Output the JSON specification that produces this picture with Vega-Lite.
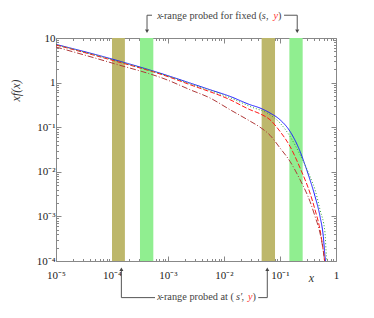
{
  "$schema": "https://vega.github.io/schema/vega-lite/v6.json",
  "width": 280,
  "height": 223,
  "autosize": {"type": "none"},
  "padding": {"left": 56, "top": 38, "right": 38, "bottom": 57},
  "config": {
    "view": {"stroke": "#888", "strokeWidth": 1},
    "font": "Liberation Serif",
    "axis": {
      "domain": false,
      "grid": false,
      "labelFont": "Liberation Serif",
      "labelFontSize": 11,
      "labelColor": "#222",
      "tickColor": "#888",
      "titleFont": "Liberation Serif",
      "titleFontWeight": "normal",
      "titleFontStyle": "italic",
      "titleFontSize": 12,
      "titleColor": "#333",
      "labelFlush": false,
      "labelOverlap": false
    }
  },
  "datasets": {
    "bands": [
      {"x0": 0.0001, "x1": 0.00017, "kind": "sprime"},
      {"x0": 0.000316, "x1": 0.000547, "kind": "s"},
      {"x0": 0.047, "x1": 0.0815, "kind": "sprime"},
      {"x0": 0.147, "x1": 0.254, "kind": "s"}
    ],
    "curves": [
      {"x": 0.00001, "y": 7.19, "s": "a"},
      {"x": 0.0001, "y": 3.38, "s": "a"},
      {"x": 0.001, "y": 1.43, "s": "a"},
      {"x": 0.00247, "y": 0.98, "s": "a"},
      {"x": 0.00562, "y": 0.693, "s": "a"},
      {"x": 0.0128, "y": 0.491, "s": "a"},
      {"x": 0.0291, "y": 0.32, "s": "a"},
      {"x": 0.044, "y": 0.269, "s": "a"},
      {"x": 0.0663, "y": 0.208, "s": "a"},
      {"x": 0.1, "y": 0.147, "s": "a"},
      {"x": 0.151, "y": 0.0805, "s": "a"},
      {"x": 0.228, "y": 0.0287, "s": "a"},
      {"x": 0.279, "y": 0.0144, "s": "a"},
      {"x": 0.343, "y": 0.00665, "s": "a"},
      {"x": 0.422, "y": 0.00281, "s": "a"},
      {"x": 0.518, "y": 0.001, "s": "a"},
      {"x": 0.593, "y": 0.000356, "s": "a"},
      {"x": 0.636, "y": 0.000127, "s": "a"},
      {"x": 0.648, "y": 0.0001, "s": "a"},

      {"x": 0.00001, "y": 6.97, "s": "b"},
      {"x": 0.0001, "y": 3.18, "s": "b"},
      {"x": 0.001, "y": 1.36, "s": "b"},
      {"x": 0.00247, "y": 0.898, "s": "b"},
      {"x": 0.0128, "y": 0.414, "s": "b"},
      {"x": 0.0291, "y": 0.247, "s": "b"},
      {"x": 0.044, "y": 0.2, "s": "b"},
      {"x": 0.0663, "y": 0.147, "s": "b"},
      {"x": 0.1, "y": 0.0805, "s": "b"},
      {"x": 0.151, "y": 0.0371, "s": "b"},
      {"x": 0.228, "y": 0.0122, "s": "b"},
      {"x": 0.343, "y": 0.00335, "s": "b"},
      {"x": 0.422, "y": 0.00141, "s": "b"},
      {"x": 0.518, "y": 0.000503, "s": "b"},
      {"x": 0.611, "y": 0.000127, "s": "b"},
      {"x": 0.625, "y": 0.0001, "s": "b"},

      {"x": 0.00001, "y": 7.08, "s": "c"},
      {"x": 0.0001, "y": 3.28, "s": "c"},
      {"x": 0.001, "y": 1.4, "s": "c"},
      {"x": 0.00247, "y": 0.944, "s": "c"},
      {"x": 0.0128, "y": 0.458, "s": "c"},
      {"x": 0.0291, "y": 0.292, "s": "c"},
      {"x": 0.0663, "y": 0.19, "s": "c"},
      {"x": 0.1, "y": 0.124, "s": "c"},
      {"x": 0.151, "y": 0.0622, "s": "c"},
      {"x": 0.228, "y": 0.0242, "s": "c"},
      {"x": 0.343, "y": 0.00788, "s": "c"},
      {"x": 0.422, "y": 0.00397, "s": "c"},
      {"x": 0.518, "y": 0.00141, "s": "c"},
      {"x": 0.636, "y": 0.000431, "s": "c"},
      {"x": 0.675, "y": 0.000127, "s": "c"},
      {"x": 0.69, "y": 0.0001, "s": "c"},

      {"x": 0.00001, "y": 6.28, "s": "d"},
      {"x": 0.0001, "y": 2.75, "s": "d"},
      {"x": 0.001, "y": 1.13, "s": "d"},
      {"x": 0.00247, "y": 0.693, "s": "d"},
      {"x": 0.00562, "y": 0.452, "s": "d"},
      {"x": 0.0128, "y": 0.247, "s": "d"},
      {"x": 0.0291, "y": 0.137, "s": "d"},
      {"x": 0.044, "y": 0.1, "s": "d"},
      {"x": 0.0663, "y": 0.066, "s": "d"},
      {"x": 0.1, "y": 0.0342, "s": "d"},
      {"x": 0.151, "y": 0.0171, "s": "d"},
      {"x": 0.228, "y": 0.00665, "s": "d"},
      {"x": 0.343, "y": 0.00217, "s": "d"},
      {"x": 0.422, "y": 0.001, "s": "d"},
      {"x": 0.518, "y": 0.000425, "s": "d"},
      {"x": 0.611, "y": 0.000127, "s": "d"},
      {"x": 0.625, "y": 0.0001, "s": "d"}
    ],
    "segments": [
      {"x": 0.000422, "x2": 0.000518, "y": 32.4, "y2": 32.4},
      {"x": 0.118, "x2": 0.203, "y": 32.4, "y2": 32.4},
      {"x": 0.000422, "x2": 0.000422, "y": 32.4, "y2": 15.4},
      {"x": 0.203, "x2": 0.203, "y": 32.4, "y2": 15.4},
      {"x": 0.000147, "x2": 0.000586, "y": 0.0000151, "y2": 0.0000151},
      {"x": 0.0409, "x2": 0.0593, "y": 0.0000151, "y2": 0.0000151},
      {"x": 0.000147, "x2": 0.000147, "y": 0.0000151, "y2": 0.0000638},
      {"x": 0.0593, "x2": 0.0593, "y": 0.0000151, "y2": 0.0000638}
    ],
    "heads": [
      {"x": 0.000422, "y": 14.2, "dir": "down"},
      {"x": 0.203, "y": 14.2, "dir": "down"},
      {"x": 0.000147, "y": 0.0000655, "dir": "up"},
      {"x": 0.0593, "y": 0.0000655, "dir": "up"}
    ],
    "plain": [
      {"t": "-range probed for fixed (", "x": 0.000735, "y": 31.5},
      {"t": ",", "x": 0.0562, "y": 31.5},
      {"t": ")", "x": 0.092, "y": 31.5},
      {"t": "-range probed at (", "x": 0.000735, "y": 0.0000153},
      {"t": ",", "x": 0.0205, "y": 0.0000153},
      {"t": ")", "x": 0.0323, "y": 0.0000153}
    ],
    "vars": [
      {"t": "x", "x": 0.000644, "y": 31.5, "role": "var"},
      {"t": "s", "x": 0.0471, "y": 31.5, "role": "var"},
      {"t": "y", "x": 0.0766, "y": 31.5, "role": "hl"},
      {"t": "x", "x": 0.000644, "y": 0.0000153, "role": "var"},
      {"t": "s′", "x": 0.01637, "y": 0.0000153, "role": "var"},
      {"t": "y", "x": 0.0268, "y": 0.0000153, "role": "hl"}
    ]
  },
  "resolve": {"axis": {"x": "independent", "y": "independent"}, "scale": {"color": "independent", "shape": "independent", "strokeDash": "independent"}},
  "layer": [
    {
      "data": {"name": "bands"},
      "mark": {"type": "rect"},
      "encoding": {
        "x": {
          "field": "x0", "type": "quantitative",
          "scale": {"type": "log", "domain": [0.00001, 1]},
          "axis": {
            "orient": "bottom",
            "title": "x",
            "titleX": 255, "titleY": 20, "titleBaseline": "alphabetic", "titleAlign": "center",
            "values": [0.00001,0.00002,0.00003,0.00004,0.00005,0.00006,0.00007,0.00008,0.00009,0.0001,0.0002,0.0003,0.0004,0.0005,0.0006,0.0007,0.0008,0.0009,0.001,0.002,0.003,0.004,0.005,0.006,0.007,0.008,0.009,0.01,0.02,0.03,0.04,0.05,0.06,0.07,0.08,0.09,0.1,0.2,0.3,0.4,0.5,0.6,0.7,0.8,0.9,1],
            "labelExpr": "abs(log(datum.value)/LN10 - round(log(datum.value)/LN10)) > 0.01 ? '' : (round(log(datum.value)/LN10) == 0 ? '1' : '10⁻' + ['','¹','²','³','⁴','⁵'][-round(log(datum.value)/LN10)])",
            "tickSize": {"condition": {"test": "abs(log(datum.value)/LN10 - round(log(datum.value)/LN10)) < 0.01", "value": -5}, "value": -2.5},
            "labelPadding": 13
          }
        },
        "x2": {"field": "x1"},
        "color": {"field": "kind", "type": "nominal", "scale": {"domain": ["sprime", "s"], "range": ["#bdb76b", "#90ee90"]}, "legend": null}
      }
    },
    {
      "data": {"name": "curves"},
      "mark": {"type": "line", "strokeWidth": 1, "interpolate": "monotone", "clip": true},
      "encoding": {
        "x": {
          "field": "x", "type": "quantitative",
          "scale": {"type": "log", "domain": [0.00001, 1]},
          "axis": {
            "orient": "top", "title": null, "labels": false,
            "values": [0.00001,0.00002,0.00003,0.00004,0.00005,0.00006,0.00007,0.00008,0.00009,0.0001,0.0002,0.0003,0.0004,0.0005,0.0006,0.0007,0.0008,0.0009,0.001,0.002,0.003,0.004,0.005,0.006,0.007,0.008,0.009,0.01,0.02,0.03,0.04,0.05,0.06,0.07,0.08,0.09,0.1,0.2,0.3,0.4,0.5,0.6,0.7,0.8,0.9,1],
            "tickSize": {"condition": {"test": "abs(log(datum.value)/LN10 - round(log(datum.value)/LN10)) < 0.01", "value": -5}, "value": -2.5}
          }
        },
        "y": {
          "field": "y", "type": "quantitative",
          "scale": {"type": "log", "domain": [0.0001, 10]},
          "axis": {
            "orient": "left",
            "title": "xf(x)",
            "titleAngle": -90, "titleX": -41, "titleY": 52, "titleAlign": "center", "titleBaseline": "middle",
            "values": [0.0001,0.0002,0.0003,0.0004,0.0005,0.0006,0.0007,0.0008,0.0009,0.001,0.002,0.003,0.004,0.005,0.006,0.007,0.008,0.009,0.01,0.02,0.03,0.04,0.05,0.06,0.07,0.08,0.09,0.1,0.2,0.3,0.4,0.5,0.6,0.7,0.8,0.9,1,2,3,4,5,6,7,8,9,10],
            "labelExpr": "abs(log(datum.value)/LN10 - round(log(datum.value)/LN10)) > 0.01 ? '' : (round(log(datum.value)/LN10) == 0 ? '1' : round(log(datum.value)/LN10) == 1 ? '10' : '10⁻' + ['','¹','²','³','⁴','⁵'][-round(log(datum.value)/LN10)])",
            "tickSize": {"condition": {"test": "abs(log(datum.value)/LN10 - round(log(datum.value)/LN10)) < 0.01", "value": -5}, "value": -2.5},
            "labelPadding": 6
          }
        },
        "color": {"field": "s", "type": "nominal", "scale": {"domain": ["a", "b", "c", "d"], "range": ["#1a1aff", "#ff1a1a", "#33a833", "#b03a3a"]}, "legend": null},
        "strokeDash": {"field": "s", "type": "nominal", "scale": {"domain": ["a", "b", "c", "d"], "range": [[1, 0], [5, 2], [1, 2], [6, 2, 1, 2]]}, "legend": null}
      }
    },
    {
      "data": {"name": "segments"},
      "mark": {"type": "rule", "color": "#555", "strokeWidth": 1},
      "encoding": {
        "x": {"field": "x", "type": "quantitative", "scale": {"type": "log", "domain": [0.00001, 1]}, "axis": null},
        "x2": {"field": "x2"},
        "y": {
          "field": "y", "type": "quantitative",
          "scale": {"type": "log", "domain": [0.0001, 10]},
          "axis": {
            "orient": "right", "title": null, "labels": false,
            "values": [0.0001,0.0002,0.0003,0.0004,0.0005,0.0006,0.0007,0.0008,0.0009,0.001,0.002,0.003,0.004,0.005,0.006,0.007,0.008,0.009,0.01,0.02,0.03,0.04,0.05,0.06,0.07,0.08,0.09,0.1,0.2,0.3,0.4,0.5,0.6,0.7,0.8,0.9,1,2,3,4,5,6,7,8,9,10],
            "tickSize": {"condition": {"test": "abs(log(datum.value)/LN10 - round(log(datum.value)/LN10)) < 0.01", "value": -5}, "value": -2.5}
          }
        },
        "y2": {"field": "y2"}
      }
    },
    {
      "data": {"name": "heads"},
      "mark": {"type": "point", "filled": true, "color": "#444", "opacity": 1, "size": 16},
      "encoding": {
        "x": {"field": "x", "type": "quantitative", "scale": {"type": "log", "domain": [0.00001, 1]}, "axis": null},
        "y": {"field": "y", "type": "quantitative", "scale": {"type": "log", "domain": [0.0001, 10]}, "axis": null},
        "shape": {"field": "dir", "type": "nominal", "scale": {"domain": ["down", "up"], "range": ["triangle-down", "triangle-up"]}, "legend": null}
      }
    },
    {
      "data": {"name": "plain"},
      "mark": {"type": "text", "align": "left", "baseline": "middle", "font": "Liberation Serif", "fontSize": 10.3, "color": "#444"},
      "encoding": {
        "x": {"field": "x", "type": "quantitative", "scale": {"type": "log", "domain": [0.00001, 1]}, "axis": null},
        "y": {"field": "y", "type": "quantitative", "scale": {"type": "log", "domain": [0.0001, 10]}, "axis": null},
        "text": {"field": "t"}
      }
    },
    {
      "data": {"name": "vars"},
      "mark": {"type": "text", "align": "left", "baseline": "middle", "font": "Liberation Serif", "fontStyle": "italic", "fontSize": 10.3},
      "encoding": {
        "x": {"field": "x", "type": "quantitative", "scale": {"type": "log", "domain": [0.00001, 1]}, "axis": null},
        "y": {"field": "y", "type": "quantitative", "scale": {"type": "log", "domain": [0.0001, 10]}, "axis": null},
        "text": {"field": "t"},
        "color": {"field": "role", "type": "nominal", "scale": {"domain": ["var", "hl"], "range": ["#444", "#ff3333"]}, "legend": null}
      }
    }
  ]
}
